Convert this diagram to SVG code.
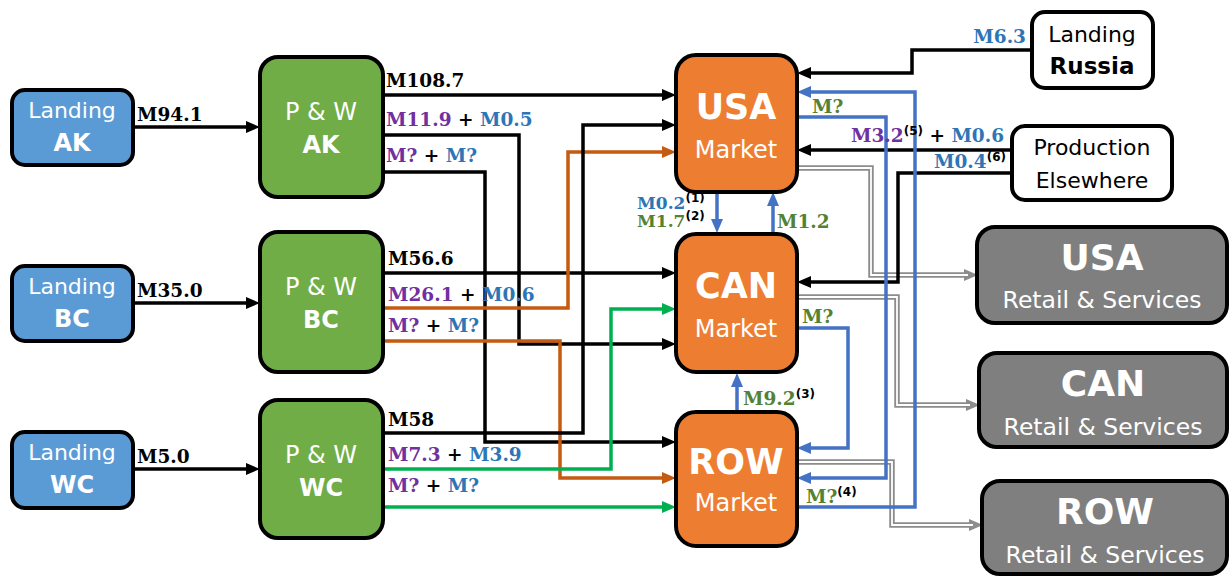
<svg xmlns="http://www.w3.org/2000/svg" width="1231" height="576" viewBox="0 0 1231 576">
<style>
.node{stroke:#000;stroke-width:4}
.land{fill:#5B9BD5}
.pw{fill:#70AD47}
.mkt{fill:#ED7D31}
.ret{fill:#7F7F7F}
.wht{fill:#fff}
.nt{font-family:"DejaVu Sans",sans-serif;fill:#fff;text-anchor:middle}
.nb{font-family:"DejaVu Sans",sans-serif;fill:#000;text-anchor:middle}
.b{font-weight:bold}
.c{fill:none;stroke-width:3.5;stroke-linejoin:miter}
.k{stroke:#000}
.o{stroke:#C55A11}
.g{stroke:#00B050}
.bl{stroke:#4472C4}
.gr1{fill:none;stroke:#8C8C8C;stroke-width:5.5}
.gr2{fill:none;stroke:#fff;stroke-width:1.8}
.lb{font-family:"DejaVu Serif",serif;font-weight:bold;font-size:18.5px}
.sm{font-size:17px}
.pu{fill:#7030A0}
.bu{fill:#2E75B6}
.gn{fill:#548235}
.bk{fill:#000}
.sup{font-family:"DejaVu Sans",sans-serif;font-weight:bold;font-size:12px;fill:#000}
</style>
<defs>
<marker id="ak" viewBox="0 0 14 12" markerWidth="14" markerHeight="12" refX="2" refY="6" markerUnits="userSpaceOnUse" orient="auto"><path d="M0,0 L14,6 L0,12 z" fill="#000"/></marker>
<marker id="ao" viewBox="0 0 14 12" markerWidth="14" markerHeight="12" refX="2" refY="6" markerUnits="userSpaceOnUse" orient="auto"><path d="M0,0 L14,6 L0,12 z" fill="#C55A11"/></marker>
<marker id="ag" viewBox="0 0 14 12" markerWidth="14" markerHeight="12" refX="2" refY="6" markerUnits="userSpaceOnUse" orient="auto"><path d="M0,0 L14,6 L0,12 z" fill="#00B050"/></marker>
<marker id="ab" viewBox="0 0 14 12" markerWidth="14" markerHeight="12" refX="2" refY="6" markerUnits="userSpaceOnUse" orient="auto"><path d="M0,0 L14,6 L0,12 z" fill="#4472C4"/></marker>
<marker id="agr" viewBox="0 0 14 12" markerWidth="14" markerHeight="12" refX="2" refY="6" markerUnits="userSpaceOnUse" orient="auto"><path d="M0,0 L14,6 L0,12 z" fill="#8C8C8C"/></marker>
</defs>

<g id="connectors">
  <path class="gr1" d="M793,168 H871 V275 H966" marker-end="url(#agr)"/>
  <path class="gr2" d="M793,168 H871 V275 H968"/>
  <path class="gr1" d="M793,297 H897 V405 H968" marker-end="url(#agr)"/>
  <path class="gr2" d="M793,297 H897 V405 H970"/>
  <path class="gr1" d="M793,462 H892 V525 H971" marker-end="url(#agr)"/>
  <path class="gr2" d="M793,462 H892 V525 H973"/>

  <path class="c k" d="M133,127 H248" marker-end="url(#ak)"/>
  <path class="c k" d="M133,303 H248" marker-end="url(#ak)"/>
  <path class="c k" d="M133,469 H248" marker-end="url(#ak)"/>

  <path class="c k" d="M383,95 H664" marker-end="url(#ak)"/>
  <path class="c k" d="M383,135 H519 V344 H664" marker-end="url(#ak)"/>
  <path class="c k" d="M383,172 H485 V442 H664" marker-end="url(#ak)"/>

  <path class="c k" d="M383,273 H664" marker-end="url(#ak)"/>
  <path class="c o" d="M383,308 H568 V152 H664" marker-end="url(#ao)"/>
  <path class="c o" d="M383,341 H560 V478 H664" marker-end="url(#ao)"/>

  <path class="c k" d="M383,433 H583 V125 H664" marker-end="url(#ak)"/>
  <path class="c g" d="M383,469 H611 V309 H664" marker-end="url(#ag)"/>
  <path class="c g" d="M383,507 H664" marker-end="url(#ag)"/>

  <path class="c k" d="M1032,50 H912 V73 H809" marker-end="url(#ak)"/>
  <path class="c k" d="M1012,150 H809" marker-end="url(#ak)"/>
  <path class="c k" d="M1012,173 H898 V282 H809" marker-end="url(#ak)"/>

  <path class="c bl" d="M717,192 V221" marker-end="url(#ab)"/>
  <path class="c bl" d="M773,234 V204" marker-end="url(#ab)"/>
  <path class="c bl" d="M737,412 V385" marker-end="url(#ab)"/>
  <path class="c bl" d="M797,507 H915 V92 H809" marker-end="url(#ab)"/>
  <path class="c bl" d="M797,117 H886 V478 H809" marker-end="url(#ab)"/>
  <path class="c bl" d="M797,328 H848 V448 H809" marker-end="url(#ab)"/>
</g>

<g id="labels">
  <text class="lb bk" x="137" y="121">M94.1</text>
  <text class="lb bk" x="137" y="297">M35.0</text>
  <text class="lb bk" x="137" y="463">M5.0</text>

  <text class="lb bk" x="386" y="87">M108.7</text>
  <text class="lb" x="386" y="126"><tspan class="pu">M11.9</tspan><tspan class="bk"> + </tspan><tspan class="bu">M0.5</tspan></text>
  <text class="lb" x="386" y="162"><tspan class="pu">M?</tspan><tspan class="bk"> + </tspan><tspan class="bu">M?</tspan></text>

  <text class="lb bk" x="388" y="265">M56.6</text>
  <text class="lb" x="388" y="301"><tspan class="pu">M26.1</tspan><tspan class="bk"> + </tspan><tspan class="bu">M0.6</tspan></text>
  <text class="lb" x="388" y="332"><tspan class="pu">M?</tspan><tspan class="bk"> + </tspan><tspan class="bu">M?</tspan></text>

  <text class="lb bk" x="388" y="426">M58</text>
  <text class="lb" x="388" y="461"><tspan class="pu">M7.3</tspan><tspan class="bk"> + </tspan><tspan class="bu">M3.9</tspan></text>
  <text class="lb" x="388" y="492"><tspan class="pu">M?</tspan><tspan class="bk"> + </tspan><tspan class="bu">M?</tspan></text>

  <text class="lb bu" x="1026" y="43" text-anchor="end">M6.3</text>
  <text class="lb gn" x="812" y="113">M?</text>
  <text class="lb" x="851" y="142"><tspan class="pu">M3.2</tspan><tspan class="sup" dy="-7">(5)</tspan><tspan class="bk" dy="7"> + </tspan><tspan class="bu">M0.6</tspan></text>
  <text class="lb" x="934" y="168"><tspan class="bu">M0.4</tspan><tspan class="sup" dy="-7">(6)</tspan></text>
  <text class="lb gn" x="802" y="323">M?</text>
  <text class="lb" x="806" y="503"><tspan class="gn">M?</tspan><tspan class="sup" dy="-7">(4)</tspan></text>

  <text class="lb sm" x="637" y="209"><tspan class="bu">M0.2</tspan><tspan class="sup" dy="-7">(1)</tspan></text>
  <text class="lb sm" x="637" y="227"><tspan class="gn">M1.7</tspan><tspan class="sup" dy="-7">(2)</tspan></text>
  <text class="lb gn" x="777" y="228">M1.2</text>
  <text class="lb" x="743" y="405"><tspan class="gn">M9.2</tspan><tspan class="sup" dy="-7">(3)</tspan></text>
</g>

<g id="landing-ak">
  <rect class="node land" x="12" y="90" width="121" height="75" rx="13"/>
  <text class="nt" x="72" y="118" font-size="22">Landing</text>
  <text class="nt b" x="72" y="151" font-size="24">AK</text>
</g>
<g id="landing-bc">
  <rect class="node land" x="12" y="266" width="121" height="75" rx="13"/>
  <text class="nt" x="72" y="294" font-size="22">Landing</text>
  <text class="nt b" x="72" y="327" font-size="24">BC</text>
</g>
<g id="landing-wc">
  <rect class="node land" x="12" y="432" width="121" height="76" rx="13"/>
  <text class="nt" x="72" y="460" font-size="22">Landing</text>
  <text class="nt b" x="72" y="493" font-size="24">WC</text>
</g>

<g id="pw-ak">
  <rect class="node pw" x="260" y="57" width="123" height="140" rx="18"/>
  <text class="nt" x="321" y="120" font-size="24">P &amp; W</text>
  <text class="nt b" x="321" y="153" font-size="24">AK</text>
</g>
<g id="pw-bc">
  <rect class="node pw" x="260" y="232" width="123" height="140" rx="18"/>
  <text class="nt" x="321" y="295" font-size="24">P &amp; W</text>
  <text class="nt b" x="321" y="328" font-size="24">BC</text>
</g>
<g id="pw-wc">
  <rect class="node pw" x="260" y="400" width="123" height="138" rx="18"/>
  <text class="nt" x="321" y="463" font-size="24">P &amp; W</text>
  <text class="nt b" x="321" y="496" font-size="24">WC</text>
</g>

<g id="usa-market">
  <rect class="node mkt" x="676" y="55" width="121" height="137" rx="20"/>
  <text class="nt b" x="736" y="119" font-size="35">USA</text>
  <text class="nt" x="736" y="158" font-size="24">Market</text>
</g>
<g id="can-market">
  <rect class="node mkt" x="676" y="234" width="121" height="138" rx="20"/>
  <text class="nt b" x="736" y="298" font-size="35">CAN</text>
  <text class="nt" x="736" y="337" font-size="24">Market</text>
</g>
<g id="row-market">
  <rect class="node mkt" x="676" y="412" width="121" height="134" rx="20"/>
  <text class="nt b" x="736" y="474" font-size="35">ROW</text>
  <text class="nt" x="736" y="511" font-size="24">Market</text>
</g>

<g id="landing-russia">
  <rect class="node wht" x="1032" y="12" width="121" height="76" rx="13"/>
  <text class="nb" x="1092" y="42" font-size="22">Landing</text>
  <text class="nb b" x="1092" y="74" font-size="23">Russia</text>
</g>
<g id="production-elsewhere">
  <rect class="node wht" x="1012" y="126" width="160" height="74" rx="13"/>
  <text class="nb" x="1092" y="155" font-size="22">Production</text>
  <text class="nb" x="1092" y="188" font-size="22">Elsewhere</text>
</g>

<g id="usa-retail">
  <rect class="node ret" x="977" y="227" width="250" height="96" rx="18"/>
  <text class="nt b" x="1102" y="270" font-size="36">USA</text>
  <text class="nt" x="1102" y="308" font-size="23.5">Retail &amp; Services</text>
</g>
<g id="can-retail">
  <rect class="node ret" x="979" y="353" width="248" height="94" rx="18"/>
  <text class="nt b" x="1103" y="396" font-size="36">CAN</text>
  <text class="nt" x="1103" y="435" font-size="23.5">Retail &amp; Services</text>
</g>
<g id="row-retail">
  <rect class="node ret" x="982" y="481" width="245" height="93" rx="18"/>
  <text class="nt b" x="1105" y="524" font-size="36">ROW</text>
  <text class="nt" x="1105" y="563" font-size="23.5">Retail &amp; Services</text>
</g>
</svg>
